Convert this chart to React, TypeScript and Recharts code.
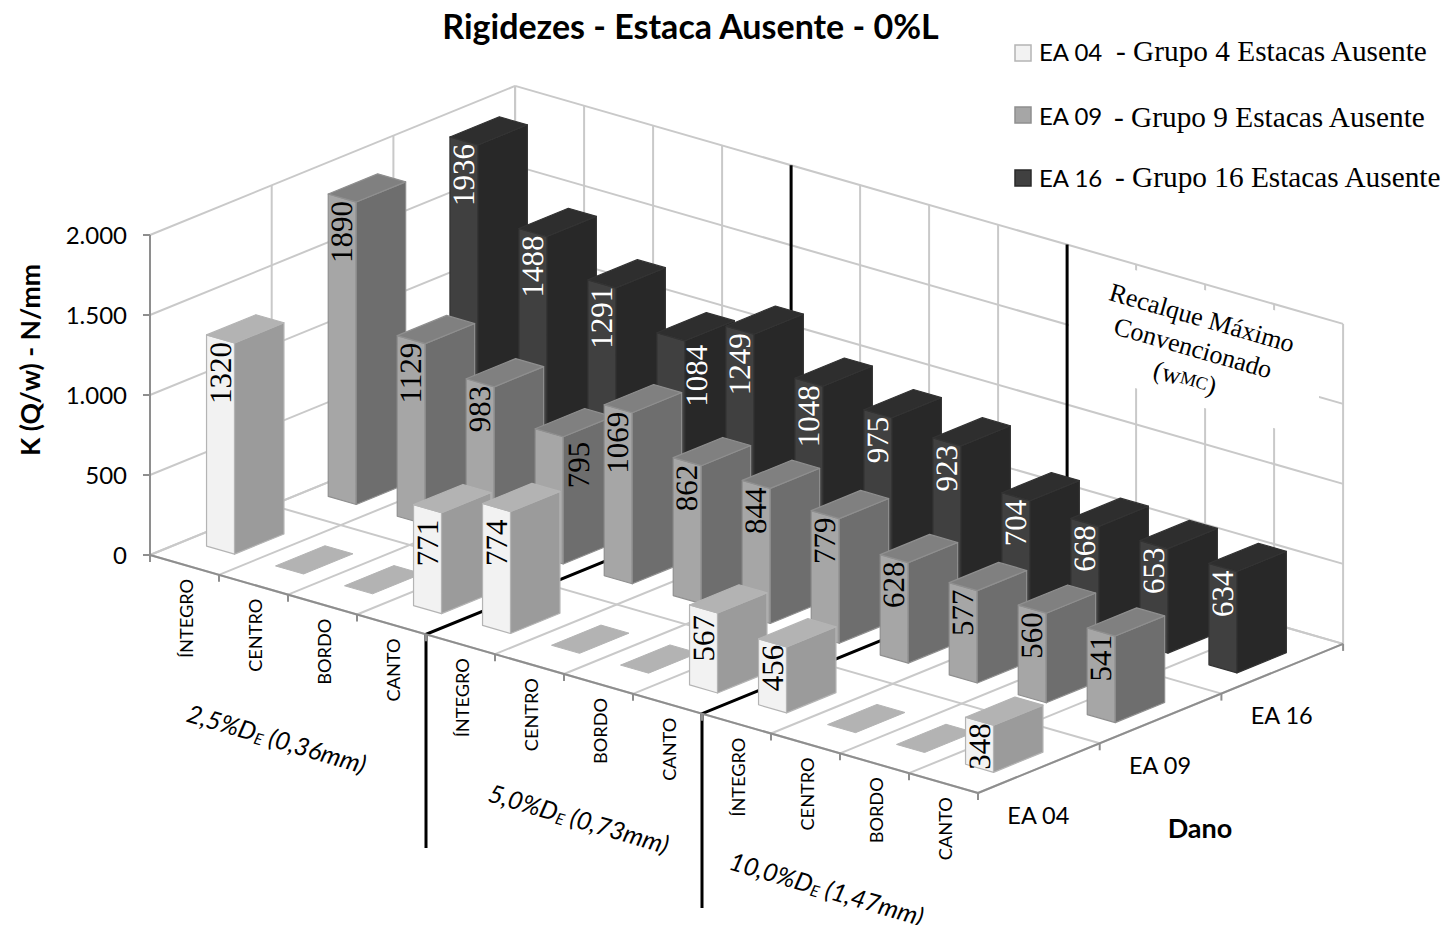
import React from 'react';
import { BarChart, Bar, XAxis, YAxis, Legend, Customized } from 'recharts';

const categories = ['ÍNTEGRO','CENTRO','BORDO','CANTO','ÍNTEGRO','CENTRO','BORDO','CANTO','ÍNTEGRO','CENTRO','BORDO','CANTO'];
// Heights of the EA 04 columns as drawn in the picture (some differ from their printed numbers)
const ea04 = [1320,0,0,631,762,0,0,500,412,0,0,294];
const ea04Printed = [1320,0,0,771,774,0,0,567,456,0,0,348];
const ea09 = [1890,1129,983,795,1069,862,844,779,628,577,560,541];
const ea16 = [1936,1488,1291,1084,1249,1048,975,923,704,668,653,634];
const valueTicks = [0,500,1000,1500,2000];
const seriesNames = ['EA 04','EA 09','EA 16'];
const legendTexts = ['- Grupo 4 Estacas Ausente','- Grupo 9 Estacas Ausente','- Grupo 16 Estacas Ausente'];
const table = categories.map((cat, i) => ({ id: i, cat, ea04: ea04[i], ea09: ea09[i], ea16: ea16[i] }));

const W = 1447, H = 925;
const LEFT = 150, BOTTOM = 555, BAND = 69, TOP = 235;
const SLOPE = 238 / 828;
const SDX = 121.7, SDY = -49.7;
const VSCALE = 320 / 2000;
const GRID = '#c9c9c9', AXIS = '#8e8e8e';
const SANS = 'Lato, sans-serif', SERIF = '"Liberation Serif", serif';

const faces = [
  { front: '#f2f2f2', side: '#9b9b9b', top: '#b3b3b3', edge: '#b4b4b4', text: '#000' },
  { front: '#a6a6a6', side: '#6e6e6e', top: '#808080', edge: '#8f8f8f', text: '#000' },
  { front: '#404040', side: '#282828', top: '#2e2e2e', edge: '#333333', text: '#fff' },
];

// hand-placed printed numbers in the reference: [series][category] -> [dx, dy]
const labelNudge: Record<string, [number, number]> = {
  '2-3': [26.5, 5],
  '1-3': [30, 6],
  '0-3': [0, 8],
  '0-4': [0, 9],
  '0-7': [0, 3],
  '0-8': [0, -1],
  '0-11': [0, -1],
};

// shear the library's flat (x, baseline) position onto the sloped floor
const floorPt = (x: number, base: number, depth: number, lift = 0): [number, number] => [
  x + depth * SDX,
  base + (x - LEFT) * SLOPE + depth * SDY - lift,
];
const P = (u: number, s: number, v = 0) => floorPt(LEFT + u * BAND, BOTTOM, s, v * VSCALE);
const pts = (a: [number, number][]) => a.map((p) => p.join(',')).join(' ');
const HALF = 0.203;

function Box(props: any) {
  const { x, y, width, height, depthIndex, index, printed } = props;
  const f = faces[depthIndex];
  const cx = x + width / 2;
  const base = y + height;
  const xL = cx - HALF * BAND, xR = cx + HALF * BAND;
  const sF = depthIndex + 0.5 - HALF, sB = depthIndex + 0.5 + HALF;
  const g = (px: number, s: number, l: number) => floorPt(px, base, s, l);
  if (height < 0.5) {
    return <polygon points={pts([g(xL, sF, 0), g(xR, sF, 0), g(xR, sB, 0), g(xL, sB, 0)])} fill={f.top} stroke={f.edge} strokeWidth={1} />;
  }
  const [lx, ly] = g(cx, sF, height);
  const [dx, dy] = labelNudge[`${depthIndex}-${index}`] ?? [0, 0];
  return (
    <g>
      <g stroke={f.edge} strokeWidth={1.2} strokeLinejoin="round">
        <polygon points={pts([g(xL, sF, 0), g(xR, sF, 0), g(xR, sF, height), g(xL, sF, height)])} fill={f.front} />
        <polygon points={pts([g(xR, sF, 0), g(xR, sB, 0), g(xR, sB, height), g(xR, sF, height)])} fill={f.side} />
        <polygon points={pts([g(xL, sF, height), g(xR, sF, height), g(xR, sB, height), g(xL, sB, height)])} fill={f.top} />
      </g>
      <text
        transform={`translate(${lx - 0.5 + dx},${ly + 3 + dy}) rotate(-90)`}
        textAnchor="end"
        dominantBaseline="central"
        fontFamily={SERIF}
        fontSize={31}
        textRendering="geometricPrecision"
        fill={f.text}
      >
        {printed[index]}
      </text>
    </g>
  );
}

const Line3 = ({ a, b, c = GRID, w = 2 }: any) => <line x1={a[0]} y1={a[1]} x2={b[0]} y2={b[1]} stroke={c} strokeWidth={w} />;

function Frame() {
  const us = categories.map((_, i) => i).concat(categories.length);
  const ss = [0, 1, 2, 3];
  return (
    <g>
      {valueTicks.map((v) => <Line3 key={'b' + v} a={P(0, 3, v)} b={P(12, 3, v)} />)}
      {valueTicks.map((v) => <Line3 key={'l' + v} a={P(0, 0, v)} b={P(0, 3, v)} />)}
      {us.map((u) => <Line3 key={'v' + u} a={P(u, 3, 0)} b={P(u, 3, 2000)} />)}
      {ss.slice(1).map((s) => <Line3 key={'w' + s} a={P(0, s, 0)} b={P(0, s, 2000)} />)}
      {us.map((u) => <Line3 key={'f' + u} a={P(u, 0)} b={P(u, 3)} />)}
      {ss.map((s) => <Line3 key={'g' + s} a={P(0, s)} b={P(12, s)} />)}

      <polygon points="1069,251 1319,323 1319,441 1069,369" fill="#fff" />
      <g fontFamily={SERIF} fontSize={26} textAnchor="middle" dominantBaseline="central" fill="#000">
        <text transform="translate(1202,318) rotate(16)">Recalque Máximo</text>
        <text transform="translate(1193,348) rotate(16)">Convencionado</text>
        <text transform="translate(1185,378) rotate(16)">(w<tspan fontSize={18}>MC</tspan>)</text>
      </g>

      {[4, 8].map((u, i) => {
        const low = [848, 908][i];
        const a = P(u, 0), b = P(u, 3), c = P(u, 3, 2000);
        return <polyline key={u} points={`${a[0]},${low} ${a[0]},${a[1]} ${b[0]},${b[1]} ${c[0]},${c[1]}`} fill="none" stroke="#000" strokeWidth={3} />;
      })}

      <Line3 a={P(0, 0)} b={P(12, 0)} c={AXIS} />
      <Line3 a={P(12, 0)} b={P(12, 3)} c={AXIS} />
      {us.map((u) => { const p = P(u, 0); return <Line3 key={'t' + u} a={p} b={[p[0], p[1] + 7]} c={AXIS} />; })}
      {ss.slice(1).map((s) => { const p = P(12, s); return <Line3 key={'q' + s} a={p} b={[p[0], p[1] + 7]} c={AXIS} />; })}

      <text x={690.5} y={25} textAnchor="middle" dominantBaseline="central" fontFamily={SANS} fontWeight={700} fontSize={34} fill="#000">Rigidezes - Estaca Ausente - 0%L</text>
      <text transform="translate(30,360) rotate(-90)" textAnchor="middle" dominantBaseline="central" fontFamily={SANS} fontWeight={700} fontSize={26.5} fill="#000">K (Q/w) - N/mm</text>

      {seriesNames.map((n, s) => {
        const p = P(12, s + 0.5);
        return <text key={n} x={p[0] - 0.5} y={p[1] + 46.5} textAnchor="middle" dominantBaseline="central" fontFamily={SANS} fontSize={23.5} fill="#000">{n}</text>;
      })}
      <text x={1200} y={827} textAnchor="middle" dominantBaseline="central" fontFamily={SANS} fontWeight={700} fontSize={27} fill="#000">Dano</text>

      {[
        { t: '2,5%D', r: ' (0,36mm)', c: [277, 738] },
        { t: '5,0%D', r: ' (0,73mm)', c: [579, 818] },
        { t: '10,0%D', r: ' (1,47mm)', c: [827, 888] },
      ].map((g) => (
        <text key={g.t} transform={`translate(${g.c[0]},${g.c[1]}) rotate(16.5)`} textAnchor="middle" dominantBaseline="central" fontFamily={SANS} fontStyle="italic" fontSize={25} fill="#000">
          {g.t}<tspan fontSize={16} dy={5}>E</tspan><tspan dy={-5}>{g.r}</tspan>
        </text>
      ))}
    </g>
  );
}

function CategoryTick(props: any) {
  const { x, payload } = props;
  const name = categories[payload.index] ?? payload.value;
  const ay = BOTTOM + (x - LEFT) * SLOPE + 14;
  return (
    <text transform={`translate(${x + 1},${ay}) rotate(-90)`} textAnchor="end" dominantBaseline="central" fontFamily={SANS} fontSize={18.2} fill="#000">
      {name}
    </text>
  );
}

function LegendBox() {
  const rows = [
    { y: 45, b1: 61, b2: 61, x2: 1116, c: faces[0] },
    { y: 107, b1: 125, b2: 127, x2: 1114, c: faces[1] },
    { y: 170, b1: 187, b2: 187, x2: 1115, c: faces[2] },
  ];
  return (
    <svg width={W} height={H} style={{ position: 'absolute', left: 0, top: 0, pointerEvents: 'none' }}>
      {rows.map((r, i) => (
        <g key={i}>
          <rect x={1015} y={r.y} width={16} height={16} fill={r.c.front} stroke={i === 2 ? '#2a2a2a' : r.c.edge} strokeWidth={1.5} />
          <text x={1039} y={r.b1} fontFamily={SANS} fontSize={24} fill="#000">{seriesNames[i]}</text>
          <text x={r.x2} y={r.b2} fontFamily={SERIF} fontSize={29.3} fill="#000">{legendTexts[i]}</text>
        </g>
      ))}
    </svg>
  );
}

const thousands = (v: number) => (v >= 1000 ? `${Math.floor(v / 1000)}.${String(v % 1000).padStart(3, '0')}` : String(v));

export default function App() {
  return (
    <div style={{ position: 'absolute', left: 0, top: 0, width: W, height: H, overflow: 'hidden', background: '#fff' }}>
      <BarChart
        width={W}
        height={H}
        data={table}
        margin={{ left: LEFT - 60, top: TOP, right: W - (LEFT + 12 * BAND), bottom: H - BOTTOM - 30 }}
      >
        <Customized component={<Frame />} />
        <XAxis xAxisId="a" dataKey="id" type="category" axisLine={false} tickLine={false} interval={0} tick={<CategoryTick />} />
        <XAxis xAxisId="b" dataKey="id" type="category" hide />
        <XAxis xAxisId="c" dataKey="id" type="category" hide />
        <YAxis
          width={60}
          domain={[0, 2000]}
          ticks={valueTicks}
          tickFormatter={thousands}
          stroke={AXIS}
          strokeWidth={2}
          tickSize={7}
          tickMargin={16}
          tick={{ fontFamily: SANS, fontSize: 24, fill: '#000' }}
        />
        <Legend content={<LegendBox />} wrapperStyle={{ position: 'absolute', left: 0, top: 0, width: 0, height: 0 }} />
        <Bar xAxisId="c" dataKey="ea16" name="EA 16" fill={faces[2].front} isAnimationActive={false} shape={(p: any) => <Box {...p} depthIndex={2} printed={ea16} />} />
        <Bar xAxisId="b" dataKey="ea09" name="EA 09" fill={faces[1].front} isAnimationActive={false} shape={(p: any) => <Box {...p} depthIndex={1} printed={ea09} />} />
        <Bar xAxisId="a" dataKey="ea04" name="EA 04" fill={faces[0].front} isAnimationActive={false} shape={(p: any) => <Box {...p} depthIndex={0} printed={ea04Printed} />} />
      </BarChart>
    </div>
  );
}
